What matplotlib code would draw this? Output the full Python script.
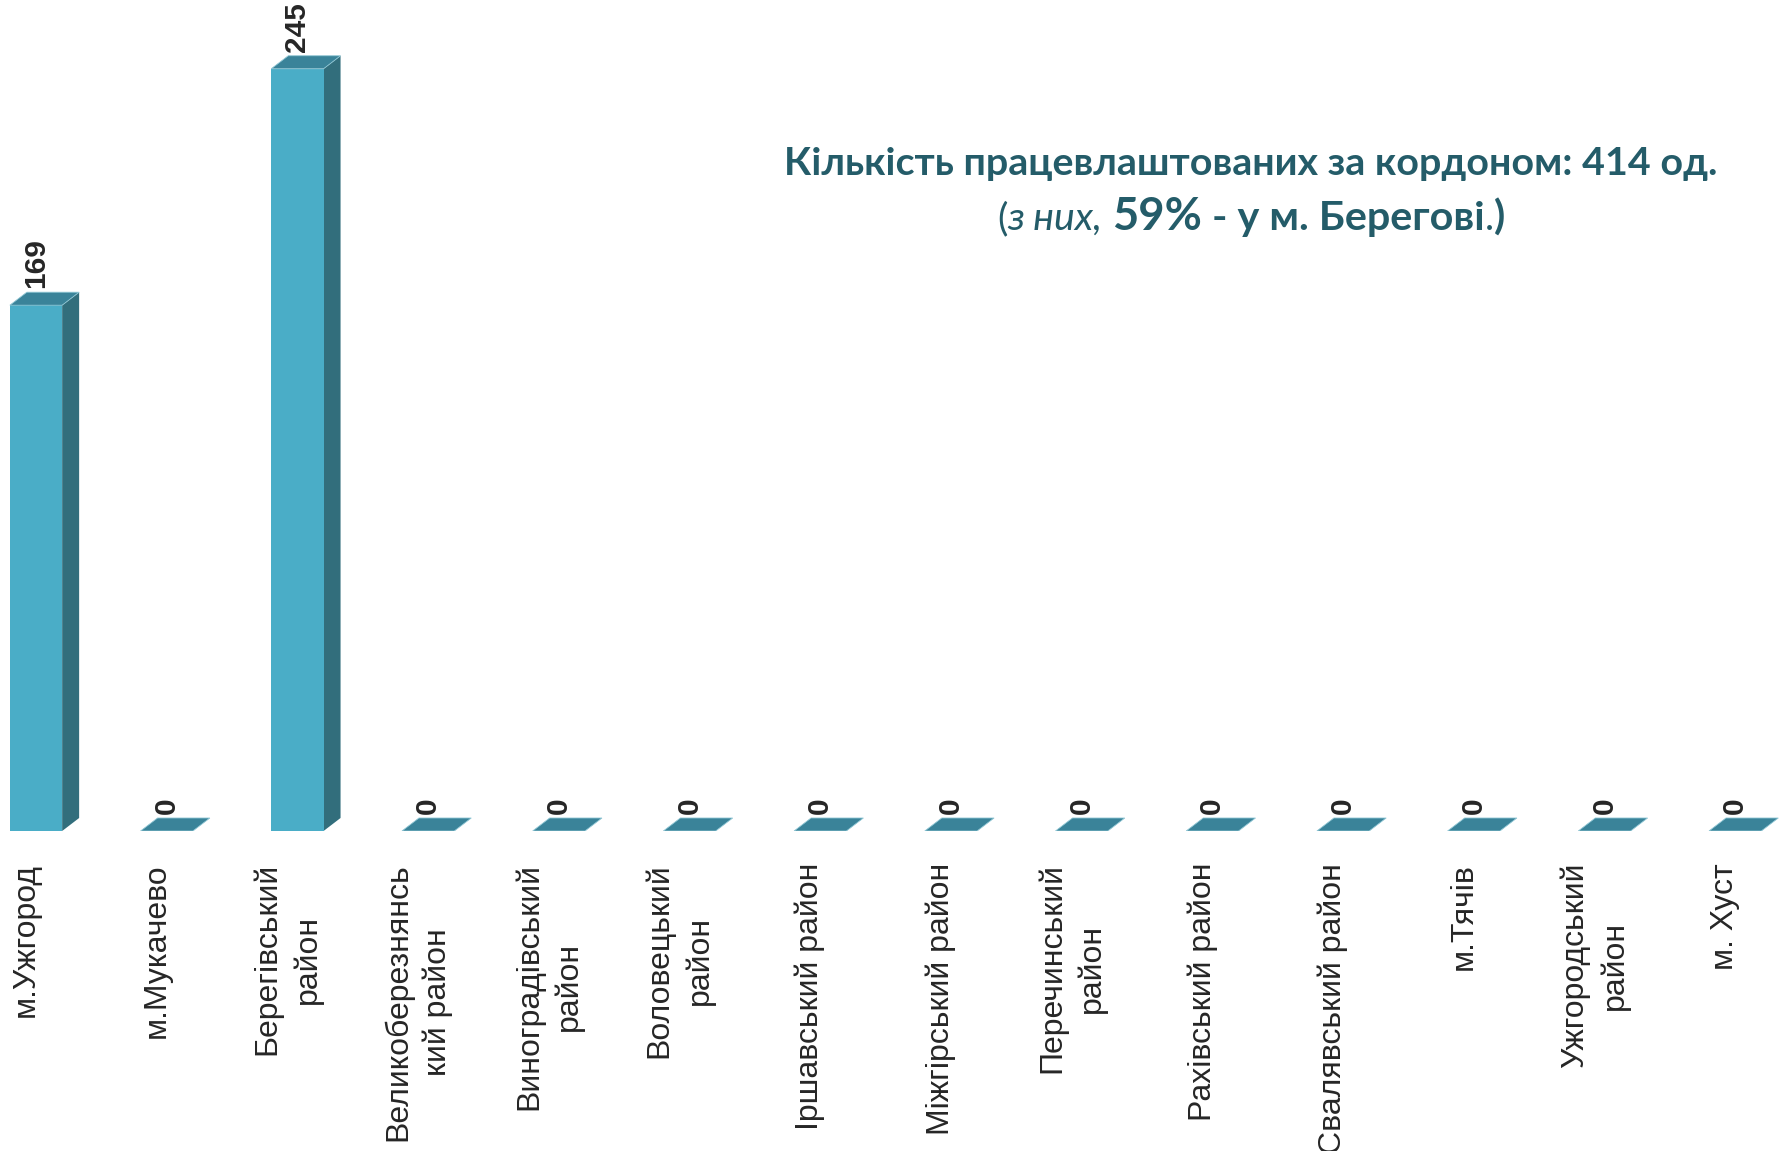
import matplotlib
matplotlib.use("Agg")
import matplotlib.pyplot as plt
from matplotlib.patches import Polygon
import numpy as np

# data
categories = ["м.Ужгород", "м.Мукачево", "Берегівський\nрайон",
              "Великоберезнянсь\nкий район", "Виноградівський\nрайон",
              "Воловецький\nрайон", "Іршавський район", "Міжгірський район",
              "Перечинський\nрайон", "Рахівський район", "Свалявський район",
              "м.Тячів", "Ужгородський\nрайон", "м. Хуст"]
values = [169, 0, 245, 0, 0, 0, 0, 0, 0, 0, 0, 0, 0, 0]

title_line1 = "Кількість працевлаштованих за кордоном: 414 од."
# (text, weight, style, size factor)
title_line2 = [("(", "normal", "normal", 1.0),
               ("з них,", "normal", "italic", 1.0),
               ("59%", "bold", "normal", 1.15),
               ("- у м. Берегові", "bold", "normal", 1.05),
               (".", "normal", "normal", 1.0),
               (")", "bold", "normal", 1.05)]

front_col = "#4aadc7"
side_col = "#326e7c"
top_col = "#3a8399"
text_col = "#262626"
title_col = "#245c69"

W, H = 1783, 1151
fig = plt.figure(figsize=(W / 100, H / 100), dpi=100)
fig.patch.set_facecolor("white")

# axes: baseline at 831px from the top
ax = fig.add_axes([0, 320 / H, 1, 831 / H])
ax.set_xlim(-0.2755, 13.366)
ax.set_ylim(0, 267.1)

x = np.arange(len(values))
w = 0.4
dx = 0.13    # depth of the fake 3d
dy = 4.18

ax.bar(x, values, width=w, color=front_col, edgecolor="none", zorder=3)

for xi, v in zip(x, values):
    l, r = xi - w / 2, xi + w / 2
    if v > 0:
        side = Polygon([(r, 0), (r + dx, dy), (r + dx, v + dy), (r, v)],
                       closed=True, facecolor=side_col, edgecolor="none", zorder=2)
        ax.add_patch(side)
    top = Polygon([(l, v), (l + dx, v + dy), (r + dx, v + dy), (r, v)],
                  closed=True, facecolor=top_col, edgecolor="#8fc6d4",
                  linewidth=0.6, zorder=4)
    ax.add_patch(top)
    ax.annotate(str(v), (xi, v + dy), xytext=(0, 3), textcoords="offset points",
                rotation=90, ha="center", va="bottom", fontsize=21.5,
                fontweight="bold", family="Liberation Sans", color=text_col)

ax.set_xticks(x - 0.077)
ax.set_xticklabels(categories, rotation=90, va="top", ha="center",
                   multialignment="center", fontsize=23,
                   family="Liberation Sans", color=text_col, linespacing=1.4)
ax.tick_params(axis="x", length=0, pad=23)
ax.set_yticks([])
for s in ax.spines.values():
    s.set_visible(False)

# title block
cx = 1251
base1 = H - 175
base2 = H - 230
size1 = 28.4
fig.text(cx / W, base1 / H, title_line1, ha="center", va="baseline",
         fontsize=size1, fontweight="bold", family="Lato", color=title_col)

renderer = fig.canvas.get_renderer()
gap = 0.25 * size1 * 100 / 72
pieces = []
total = 0
for i, (t, wgt, sty, f) in enumerate(title_line2):
    txt = fig.text(0, base2 / H, t, ha="left", va="baseline",
                   fontsize=size1 * f, fontweight=wgt, fontstyle=sty,
                   family="Lato", color=title_col)
    wpx = txt.get_window_extent(renderer).width
    pieces.append((txt, wpx))
    total += wpx
gaps = [0, 0, gap, gap, 0, 0]
total += sum(gaps)
pos = cx - total / 2
for (txt, wpx), g in zip(pieces, gaps):
    pos += g
    txt.set_x(pos / W)
    pos += wpx

fig.savefig("out.png", dpi=100, facecolor="white")
